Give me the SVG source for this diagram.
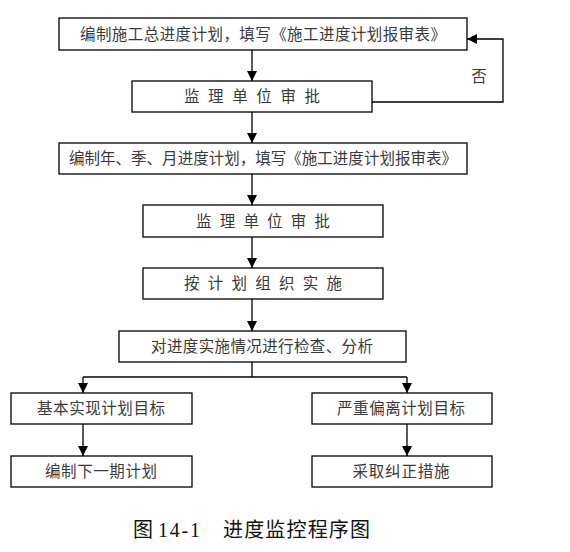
<svg xmlns="http://www.w3.org/2000/svg" width="570" height="552" viewBox="0 0 570 552">
<style>
.box{fill:#fff;stroke:#000;stroke-width:1.3}
.t{font-family:"Noto Sans CJK SC","Noto Sans",sans-serif;font-size:15.5px;fill:#3a3a3a;text-anchor:middle}
.c{fill:none;stroke:#000;stroke-width:1.3}
.cap{font-family:"Liberation Serif","Noto Sans CJK SC",serif;font-size:20px;fill:#111}
</style>
<defs>
<marker id="ah" viewBox="0 0 10 12" refX="10" refY="6" markerWidth="10" markerHeight="12" markerUnits="userSpaceOnUse" orient="auto">
<path d="M0,1 L10,6 L0,11 Z" fill="#000"/>
</marker>
</defs>
<rect width="570" height="552" fill="#fff"/>
<g id="connectors">
<line class="c" x1="252" y1="50" x2="252" y2="81" marker-end="url(#ah)"/>
<line class="c" x1="252" y1="112" x2="252" y2="143" marker-end="url(#ah)"/>
<line class="c" x1="252" y1="174" x2="252" y2="205" marker-end="url(#ah)"/>
<line class="c" x1="252" y1="237" x2="252" y2="268" marker-end="url(#ah)"/>
<line class="c" x1="252" y1="299" x2="252" y2="331" marker-end="url(#ah)"/>
<polyline class="c" points="252,362 252,377"/>
<polyline class="c" points="83,377 407,377"/>
<line class="c" x1="83" y1="377" x2="83" y2="393" marker-end="url(#ah)"/>
<line class="c" x1="407" y1="377" x2="407" y2="393" marker-end="url(#ah)"/>
<line class="c" x1="83" y1="424" x2="83" y2="456" marker-end="url(#ah)"/>
<line class="c" x1="407" y1="424" x2="407" y2="456" marker-end="url(#ah)"/>
<polyline class="c" points="372,102 503,102 503,39 467,39" marker-end="url(#ah)"/>
<text class="t" x="479" y="82">否</text>
</g>
<g id="n1"><rect class="box" x="59" y="18" width="408" height="32"/><text class="t" x="263" y="40" textLength="366">编制施工总进度计划，填写《施工进度计划报审表》</text></g>
<g id="n2"><rect class="box" x="132" y="81" width="240" height="31"/><text class="t" x="252" y="102" textLength="136">监 理 单 位 审 批</text></g>
<g id="n3"><rect class="box" x="59" y="143" width="408" height="31"/><text class="t" x="263" y="164" textLength="388">编制年、季、月进度计划，填写《施工进度计划报审表》</text></g>
<g id="n4"><rect class="box" x="143" y="205" width="240" height="32"/><text class="t" x="263" y="227" textLength="134">监 理 单 位 审 批</text></g>
<g id="n5"><rect class="box" x="143" y="268" width="240" height="31"/><text class="t" x="263" y="289" textLength="158">按 计 划 组 织 实 施</text></g>
<g id="n6"><rect class="box" x="119" y="331" width="287" height="31"/><text class="t" x="262" y="352" textLength="222">对进度实施情况进行检查、分析</text></g>
<g id="n7"><rect class="box" x="11" y="393" width="181" height="31"/><text class="t" x="101" y="414" textLength="128">基本实现计划目标</text></g>
<g id="n8"><rect class="box" x="11" y="456" width="181" height="31"/><text class="t" x="101" y="477" textLength="112">编制下一期计划</text></g>
<g id="n9"><rect class="box" x="312" y="393" width="180" height="31"/><text class="t" x="401" y="414" textLength="128">严重偏离计划目标</text></g>
<g id="n10"><rect class="box" x="312" y="456" width="180" height="31"/><text class="t" x="401" y="477" textLength="97">采取纠正措施</text></g>
<text class="cap" y="537"><tspan x="133">图</tspan><tspan x="158" textLength="42">14-1</tspan><tspan x="223" textLength="147">进度监控程序图</tspan></text>
</svg>
